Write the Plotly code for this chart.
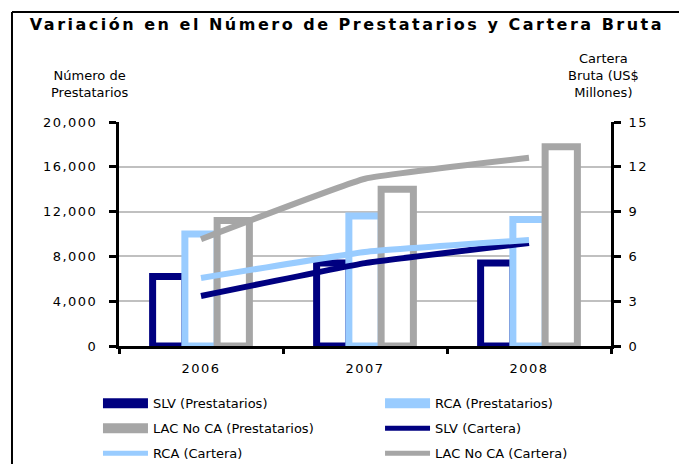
import plotly.graph_objects as go

years = ["2006", "2007", "2008"]

# Número de prestatarios (eje izquierdo)
slv_prest = [6200, 7400, 7400]
rca_prest = [10000, 11600, 11300]
lac_prest = [11200, 14000, 17800]

# Cartera bruta, US$ millones (eje derecho)
slv_cart = [3.35, 5.55, 6.9]
rca_cart = [4.55, 6.3, 7.1]
lac_cart = [7.15, 11.2, 12.6]

left_ticks = [0, 4000, 8000, 12000, 16000, 20000]
right_ticks = [0, 3, 6, 9, 12, 15]

NAVY = "#000080"
LIGHT = "#99CCFF"
GRAY = "#A6A6A6"
FONT = "DejaVu Sans, sans-serif"

fig = go.Figure()

bars = [("SLV (Prestatarios)", slv_prest, NAVY),
        ("RCA (Prestatarios)", rca_prest, LIGHT),
        ("LAC No CA (Prestatarios)", lac_prest, GRAY)]
lines = [("SLV (Cartera)", slv_cart, NAVY),
         ("RCA (Cartera)", rca_cart, LIGHT),
         ("LAC No CA (Cartera)", lac_cart, GRAY)]

for name, vals, col in bars:
    fig.add_trace(go.Bar(x=years, y=vals, name=name, showlegend=False,
                         marker=dict(color="white", line=dict(color=col, width=7))))

for name, vals, col in lines:
    fig.add_trace(go.Scatter(x=years, y=vals, name=name, yaxis="y2", mode="lines",
                             line=dict(color=col, width=6, shape="spline", smoothing=0.3),
                             showlegend=False))

# legend: two columns, three rows, one small legend per entry
col_x = [0.1443, 0.5597]
row_y = [0.131, 0.077, 0.023]
legends = {}
for i, (name, vals, col) in enumerate(bars + lines):
    key = "legend" if i == 0 else f"legend{i + 1}"
    is_bar = name.endswith("(Prestatarios)")
    fig.add_trace(go.Scatter(x=[None], y=[None], name=name, mode="lines", legend=key,
                             line=dict(color=col, width=11 if is_bar else 5)))
    legends[key] = dict(xref="container", yref="container", x=col_x[i % 2],
                        y=row_y[i // 2], xanchor="left", yanchor="middle",
                        font=dict(size=13, family=FONT), itemwidth=45,
                        bgcolor="rgba(0,0,0,0)")

# titles of the axes
fig.add_annotation(text="Número de<br>Prestatarios", xref="paper", yref="paper",
                   x=-0.06, y=1.09, xanchor="center", yanchor="bottom", showarrow=False,
                   font=dict(size=13, color="black", family=FONT), align="center")
fig.add_annotation(text="Cartera<br>Bruta (US$<br>Millones)", xref="paper", yref="paper",
                   x=0.984, y=1.09, xanchor="center", yanchor="bottom", showarrow=False,
                   font=dict(size=13, color="black", family=FONT), align="center")

# chart frame (top and left only)
fig.add_shape(type="line", xref="paper", yref="paper", x0=-0.2175, x1=1.2, y0=1.491,
              y1=1.491, line=dict(color="black", width=2))
fig.add_shape(type="line", xref="paper", yref="paper", x0=-0.2175, x1=-0.2175,
              y0=-0.6, y1=1.491, line=dict(color="black", width=2))

fig.update_layout(
    width=679, height=464,
    margin=dict(l=119, r=68, t=122, b=118, autoexpand=False),
    paper_bgcolor="white", plot_bgcolor="white",
    barmode="group", bargap=0.41, bargroupgap=0,
    font=dict(family=FONT, size=13, color="black"),
    title=dict(text="<b>Variación en el Número de Prestatarios y Cartera Bruta</b>",
               x=0.511, xanchor="center", y=0.947, yanchor="middle",
               font=dict(family=FONT, size=16, color="black")),
    xaxis=dict(showline=True, linecolor="black", linewidth=3, ticks="outside",
               ticklen=5, tickwidth=3, tickcolor="black", showgrid=False,
               tickson="boundaries", tickfont=dict(size=13), ticklabelstandoff=8),
    yaxis=dict(range=[0, 20000], tickvals=left_ticks, tickformat=",d",
               showline=True, linecolor="black", linewidth=3, ticks="outside",
               ticklen=7, tickwidth=3, tickcolor="black",
               showgrid=True, gridcolor="#C0C0C0", gridwidth=2, zeroline=False,
               tickfont=dict(size=13), ticklabelstandoff=9),
    yaxis2=dict(range=[0, 15], tickvals=right_ticks, overlaying="y", side="right",
                showline=True, linecolor="black", linewidth=3, ticks="outside",
                ticklen=7, tickwidth=3, tickcolor="black", showgrid=False,
                zeroline=False, tickfont=dict(size=13), ticklabelstandoff=5),
    **legends,
)

# page without body margin; wide letter spacing as in the original
post = """
document.body.style.margin = '0';
document.querySelectorAll('.gtitle').forEach(function (e) { e.style.letterSpacing = '2.5px'; });
document.querySelectorAll('.xtick text, .ytick text, .y2tick text').forEach(function (e) {
    e.style.letterSpacing = '1.5px';
});
"""

fig.write_html("out.html", post_script=post, config={"displayModeBar": False})
